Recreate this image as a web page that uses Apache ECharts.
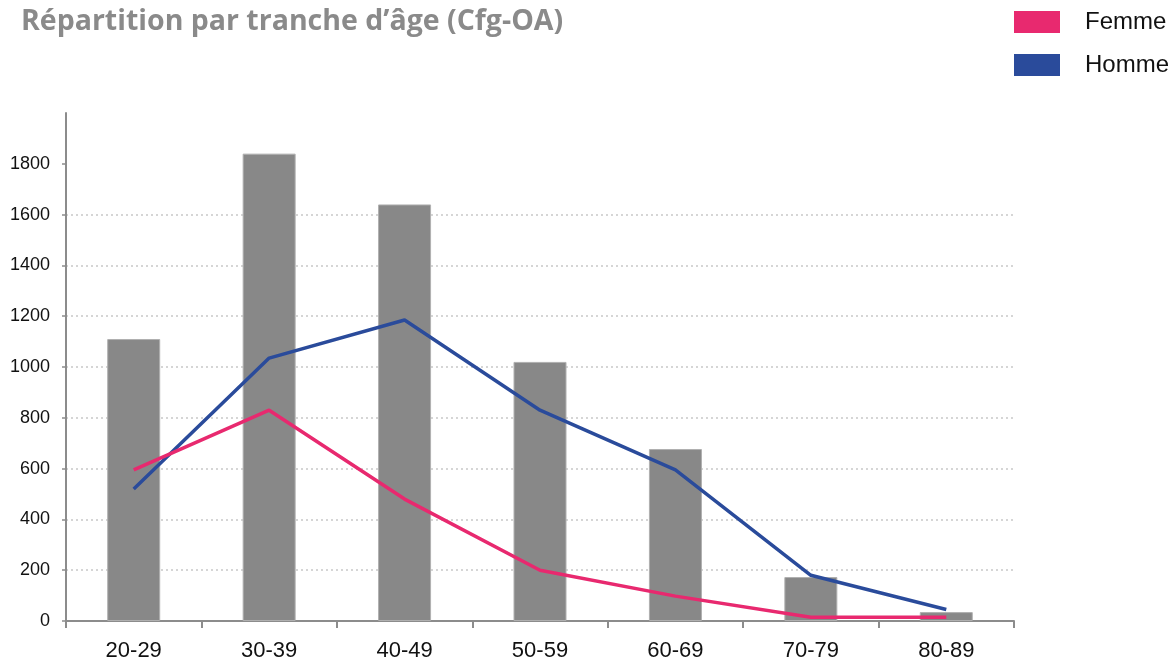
<!DOCTYPE html>
<html>
<head>
<meta charset="utf-8">
<script src="https://cdn.jsdelivr.net/npm/echarts@6/dist/echarts.min.js"></script>
<style>
  html, body { margin: 0; padding: 0; background: #fff; }
  #chart { width: 1175px; height: 661px; }
</style>
</head>
<body>
<div id="chart"></div>
<script>
// Age brackets and headcounts (total, women, men)
const categories = ['20-29', '30-39', '40-49', '50-59', '60-69', '70-79', '80-89'];
const totalValues = [1110, 1840, 1640, 1020, 677, 173, 35];
const femmeValues = [595, 830, 480, 200, 98, 15, 15];
const hommeValues = [520, 1035, 1185, 830, 595, 180, 45];
const yTickValues = [0, 200, 400, 600, 800, 1000, 1200, 1400, 1600, 1800];

const chart = echarts.init(document.getElementById('chart'));

chart.setOption({
  animation: false,
  title: {
    text: 'Répartition par tranche d’âge (Cfg-OA)',
    left: 16,
    top: 0,
    padding: [7, 5, 5, 5],
    textStyle: {
      fontFamily: 'Open Sans',
      fontWeight: 'bold',
      fontSize: 28.5,
      color: '#8a8a8a'
    }
  },
  legend: {
    data: ['Femme', 'Homme'],
    orient: 'vertical',
    left: 1014,
    top: 10,
    padding: 0,
    icon: 'rect',
    itemWidth: 46,
    itemHeight: 22,
    itemGap: 19,
    textStyle: {
      fontFamily: 'Liberation Sans',
      fontSize: 24,
      color: '#111',
      padding: [9, 0, 0, 20]
    }
  },
  grid: {
    left: 66,
    right: 161,
    top: 113,
    bottom: 40,
    containLabel: false,
    outerBoundsMode: 'none'
  },
  xAxis: {
    type: 'category',
    data: categories,
    boundaryGap: true,
    axisLine: { lineStyle: { color: '#8c8c8c', width: 2 } },
    axisTick: { show: true, length: 7, lineStyle: { color: '#8c8c8c', width: 2 } },
    axisLabel: {
      fontFamily: 'Liberation Sans',
      fontSize: 22,
      color: '#111',
      margin: 19
    },
    splitLine: { show: false }
  },
  yAxis: {
    type: 'value',
    min: 0,
    max: 2000,
    interval: 200,
    axisLine: { show: true, lineStyle: { color: '#8c8c8c', width: 2 } },
    axisTick: {
      show: true,
      length: 4,
      customValues: yTickValues,
      lineStyle: { color: '#8c8c8c', width: 1.5 }
    },
    axisLabel: {
      customValues: yTickValues,
      formatter: (v) => String(v),
      fontFamily: 'Liberation Sans',
      fontSize: 18,
      color: '#111',
      margin: 16
    },
    splitLine: {
      show: true,
      showMinLine: false,
      showMaxLine: false,
      lineStyle: { color: '#c8c8c8', type: [2, 3], width: 1.5 }
    }
  },
  series: [
    {
      name: 'Total',
      type: 'bar',
      data: totalValues,
      barWidth: 53,
      itemStyle: {
        color: '#888888',
        borderColor: '#b0b0b0',
        borderWidth: 1
      },
      z: 1
    },
    {
      name: 'Femme',
      type: 'line',
      data: femmeValues,
      showSymbol: false,
      symbol: 'none',
      lineStyle: { color: '#e8296f', width: 3.5 },
      itemStyle: { color: '#e8296f' },
      z: 3
    },
    {
      name: 'Homme',
      type: 'line',
      data: hommeValues,
      showSymbol: false,
      symbol: 'none',
      lineStyle: { color: '#2a4b9b', width: 3.5 },
      itemStyle: { color: '#2a4b9b' },
      z: 2
    }
  ]
});
</script>
</body>
</html>
